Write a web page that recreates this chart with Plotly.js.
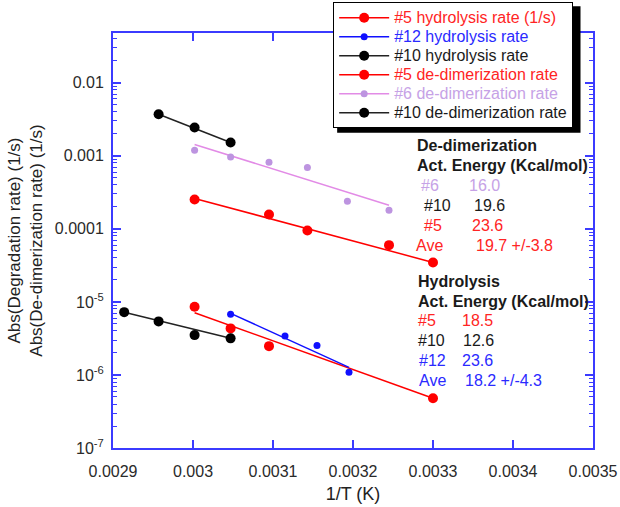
<!DOCTYPE html>
<html><head><meta charset="utf-8">
<script src="https://cdn.plot.ly/plotly-3.0.1.min.js"></script>
<style>html,body{margin:0;padding:0;background:#fff}</style>
</head><body>
<div id="chart" style="width:620px;height:507px"></div>
<script>
// ---- tick labels ----
const xTickVals = [0.0029, 0.0030, 0.0031, 0.0032, 0.0033, 0.0034, 0.0035];
const xTickText = ['0.0029', '0.003', '0.0031', '0.0032', '0.0033', '0.0034', '0.0035'];
const yTickVals = [1e-7, 1e-6, 1e-5, 1e-4, 1e-3, 1e-2];
const yTickText = ['10<sup>-7</sup>', '10<sup>-6</sup>', '10<sup>-5</sup>', '0.0001', '0.001', '0.01'];

// ---- hydrolysis rates (1/s) ----
const h5X = [0.003002, 0.003047, 0.003095, 0.0033];
const h5Y = [8.57e-6, 4.34e-6, 2.48e-6, 4.79e-7];
const h5FitX = [0.003002, 0.0033];
const h5FitY = [7.10e-6, 4.79e-7];

const h12X = [0.003047, 0.003115, 0.003155, 0.003195];
const h12Y = [6.75e-6, 3.40e-6, 2.54e-6, 1.09e-6];
const h12FitX = [0.003047, 0.003195];
const h12FitY = [6.97e-6, 1.27e-6];

const h10X = [0.002914, 0.002957, 0.003002, 0.003047];
const h10Y = [7.24e-6, 5.41e-6, 3.51e-6, 3.17e-6];
const h10FitX = [0.002914, 0.003047];
const h10FitY = [7.20e-6, 3.17e-6];

// ---- de-dimerization rates (1/s) ----
const d5X = [0.003002, 0.003095, 0.003143, 0.003245, 0.0033];
const d5Y = [2.52e-4, 1.57e-4, 9.5e-5, 5.98e-5, 3.47e-5];
const d5FitX = [0.003002, 0.0033];
const d5FitY = [2.61e-4, 3.47e-5];

const d6X = [0.003002, 0.003047, 0.003095, 0.003143, 0.003193, 0.003245];
const d6Y = [1.19e-3, 9.66e-4, 8.17e-4, 6.92e-4, 2.39e-4, 1.80e-4];
const d6FitX = [0.003002, 0.003245];
const d6FitY = [1.43e-3, 2.11e-4];

const d10X = [0.002957, 0.003002, 0.003047];
const d10Y = [3.71e-3, 2.44e-3, 1.52e-3];
const d10FitX = [0.002957, 0.003047];
const d10FitY = [3.71e-3, 1.52e-3];

// ---- activation energy tables ----
const dedimTitle = ['De-dimerization', 'Act. Energy (Kcal/mol)'];
const dedimIds = ['#6', '#10', '#5', 'Ave'];
const dedimEa = ['16.0', '19.6', '23.6', '19.7 +/-3.8'];
const hydroTitle = ['Hydrolysis', 'Act. Energy (Kcal/mol)'];
const hydroIds = ['#5', '#10', '#12', 'Ave'];
const hydroEa = ['18.5', '12.6', '23.6', '18.2 +/-4.3'];

// ---- styles ----
const RED = '#ff0000', BLUE = '#1010ff', BLACK = '#000000';
const LAV = '#bd94e0', PINK = '#e28be6';
const T_RED = '#ff2424', T_BLUE = '#2a2aff', T_BLACK = '#1a1a1a', T_LAV = '#c6a2e6';
const AXIS = '#3b3bff';
const FONT = 'Arial, "Liberation Sans", sans-serif';

const series = [
  {name: '#5 hydrolysis rate (1/s)', x: h5X, y: h5Y, fx: h5FitX, fy: h5FitY, mc: RED, lc: RED, tc: T_RED, ms: 10},
  {name: '#12 hydrolysis rate', x: h12X, y: h12Y, fx: h12FitX, fy: h12FitY, mc: BLUE, lc: BLUE, tc: T_BLUE, ms: 7},
  {name: '#10 hydrolysis rate', x: h10X, y: h10Y, fx: h10FitX, fy: h10FitY, mc: BLACK, lc: '#222', tc: T_BLACK, ms: 10},
  {name: '#5 de-dimerization rate', x: d5X, y: d5Y, fx: d5FitX, fy: d5FitY, mc: RED, lc: RED, tc: T_RED, ms: 10},
  {name: '#6 de-dimerization rate', x: d6X, y: d6Y, fx: d6FitX, fy: d6FitY, mc: LAV, lc: PINK, tc: T_LAV, ms: 7},
  {name: '#10 de-dimerization rate', x: d10X, y: d10Y, fx: d10FitX, fy: d10FitY, mc: BLACK, lc: '#222', tc: T_BLACK, ms: 10}
];

function gapped(arr) {
  const out = [];
  arr.forEach((v, i) => { if (i) out.push(null); out.push(v); });
  return out;
}

const traces = [];
series.forEach(s => {
  traces.push({type: 'scatter', mode: 'lines', x: s.fx, y: s.fy, showlegend: false,
    line: {color: s.lc, width: 1.5}, hoverinfo: 'skip'});
});
series.forEach(s => {
  traces.push({type: 'scatter', mode: 'lines+markers', x: gapped(s.x), y: gapped(s.y),
    connectgaps: false,
    name: '<span style="font-size:16px;fill:' + s.tc + '">' + s.name + '</span>',
    marker: {color: s.mc, size: s.ms, line: {width: 0}},
    line: {color: s.lc, width: 1.5}});
});

// pixel -> paper helpers for text placement
const PX0 = 112.7, PW = 480.3, PY1 = 448, PH = 415.3;
const px = v => (v - PX0) / PW;
const py = v => (PY1 - v) / PH;

const annotations = [];
function addText(text, x, y, color, bold) {
  annotations.push({xref: 'paper', yref: 'paper', x: px(x), y: py(y), xanchor: 'left', yanchor: 'middle',
    showarrow: false, text: bold ? '<b>' + text + '</b>' : text,
    font: {family: FONT, size: 16, color: color}, borderpad: 0});
}
const dedimColors = [T_LAV, T_BLACK, T_RED, T_RED];
const dedimIdX = [420, 423, 423, 415];
const dedimEaX = [468, 473, 471, 475];
const dedimRowY = [185, 205, 225, 245];
addText(dedimTitle[0], 416, 145, T_BLACK, true);
addText(dedimTitle[1], 416, 165, T_BLACK, true);
dedimIds.forEach((t, i) => {
  addText(t, dedimIdX[i], dedimRowY[i], dedimColors[i], false);
  addText(dedimEa[i], dedimEaX[i], dedimRowY[i], dedimColors[i], false);
});
const hydroColors = [T_RED, T_BLACK, T_BLUE, T_BLUE];
const hydroIdX = [417, 417, 418, 418];
const hydroEaX = [461, 462, 461, 464];
const hydroRowY = [320, 340, 360, 380];
addText(hydroTitle[0], 417, 281, T_BLACK, true);
addText(hydroTitle[1], 417, 301, T_BLACK, true);
hydroIds.forEach((t, i) => {
  addText(t, hydroIdX[i], hydroRowY[i], hydroColors[i], false);
  addText(hydroEa[i], hydroEaX[i], hydroRowY[i], hydroColors[i], false);
});

const minorVals = [];
for (let k = -7; k <= -2; k++) for (let d = 2; d <= 9; d++) minorVals.push(d * Math.pow(10, k));

const axisCommon = {
  showgrid: false, zeroline: false, showline: true, linecolor: AXIS, linewidth: 2,
  mirror: 'allticks', ticks: 'inside', ticklen: 8, tickwidth: 1.5, tickcolor: AXIS,
  tickfont: {family: FONT, size: 16, color: '#2a2a2a'}
};

const layout = {
  width: 620, height: 507,
  margin: {l: 113, r: 27, t: 33, b: 59, pad: 0, autoexpand: false},
  paper_bgcolor: '#ffffff', plot_bgcolor: '#ffffff',
  font: {family: FONT, color: '#222'},
  showlegend: true,
  legend: {x: px(333), y: py(2), xanchor: 'left', yanchor: 'top',
    bgcolor: '#ffffff', bordercolor: '#000000', borderwidth: 1,
    font: {family: FONT, size: 12, color: '#222'}, itemwidth: 50, traceorder: 'normal'},
  xaxis: Object.assign({}, axisCommon, {
    range: [0.0029, 0.0035], tickmode: 'array', tickvals: xTickVals, ticktext: xTickText,
    ticklabelstandoff: 8,
    title: {text: '1/T (K)', font: {family: FONT, size: 18, color: '#222'}, standoff: 8}
  }),
  yaxis: Object.assign({}, axisCommon, {
    type: 'log', range: [-7, -1.319], tickmode: 'array', tickvals: yTickVals, ticktext: yTickText,
    minor: {ticks: 'inside', ticklen: 4, tickwidth: 1, tickcolor: AXIS, tickvals: minorVals},
    ticklabelstandoff: 4,
    title: {text: 'Abs(Degradation rate) (1/s)<br>Abs(De-dimerization rate) (1/s)',
      font: {family: FONT, size: 17, color: '#222'}, standoff: 8}
  }),
  // drop shadow behind the legend box
  shapes: [{type: 'rect', xref: 'paper', yref: 'paper', x0: px(337), x1: px(580.5), y0: py(132.5), y1: py(6),
    fillcolor: '#000000', line: {width: 0}, layer: 'above'}],
  annotations: annotations
};

Plotly.newPlot('chart', traces, layout, {displayModeBar: false, staticPlot: true});
</script>
</body></html>
